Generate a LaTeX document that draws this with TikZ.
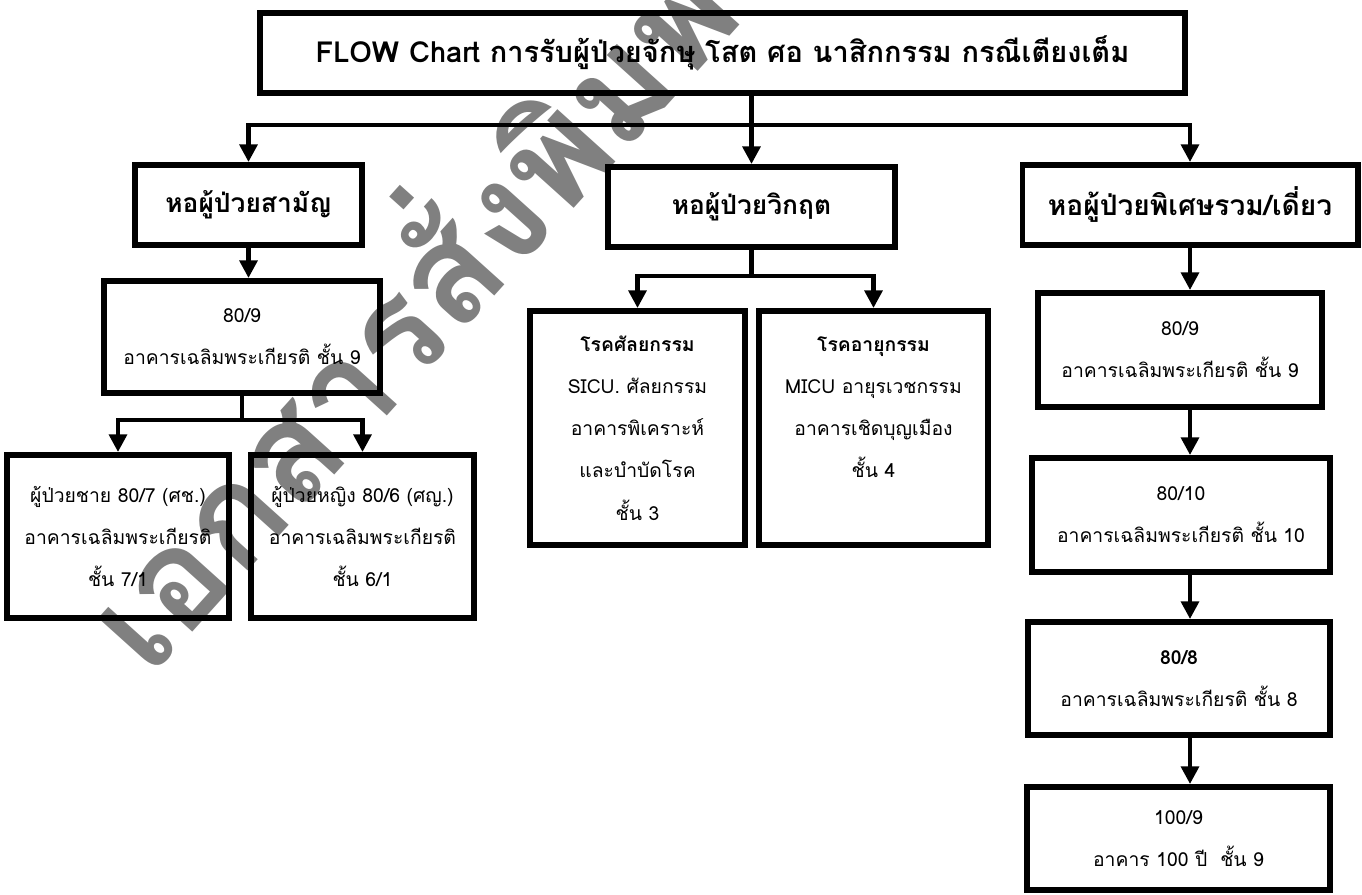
\documentclass[tikz,border=0pt]{standalone}
\usepackage{fontspec}
\setmainfont[Script=Thai]{Loma}
\usepackage{tikz}
\usetikzlibrary{arrows.meta}
\definecolor{wmgray}{RGB}{128,128,128}

\begin{document}
\begin{tikzpicture}
		\tikzset{> = {Triangle[length=10pt,width=10pt]}}
		\tikzset{box/.style = {draw,line width=3.4pt,align=center,inner sep=0pt,font=\fontsize{11}{24}\selectfont},
			head/.style = {box,font=\fontsize{15}{18}\bfseries\selectfont},
			link/.style = {line width=2.4pt}}
		\useasboundingbox (0,0) rectangle (27.24,-17.9);
		\node[rotate=48,text=wmgray,font=\fontsize{80}{80}\bfseries\selectfont] (M) at (7.9,-6.0){เอกสารสั่งพิมพ์};
		\node[head,font=\fontsize{16.5}{18}\bfseries\selectfont,minimum width=18.5cm,minimum height=1.6cm] (T) at (14.45,-1.06){FLOW Chart การรับผู้ป่วยจักษุ โสต ศอ นาสิกกรรม กรณีเตียงเต็ม};
		\node[head,minimum width=4.54cm,minimum height=1.6cm] (S) at (4.97,-4.1){หอผู้ป่วยสามัญ};
		\node[head,minimum width=5.74cm,minimum height=1.6cm] (W) at (15.03,-4.14){หอผู้ป่วยวิกฤต};
		\node[head,font=\fontsize{16}{18}\bfseries\selectfont,minimum width=6.7cm,minimum height=1.6cm] (P) at (23.8,-4.1){หอผู้ป่วยพิเศษรวม/เดี่ยว};
		\node[box,minimum width=5.52cm,minimum height=2.24cm] (S1) at (4.84,-6.74){80/9\\อาคารเฉลิมพระเกียรติ ชั้น 9};
		\node[box,minimum width=4.44cm,minimum height=3.26cm] (S2) at (2.36,-10.73){ผู้ป่วยชาย 80/7 (ศช.)\\อาคารเฉลิมพระเกียรติ\\ชั้น 7/1};
		\node[box,minimum width=4.46cm,minimum height=3.26cm] (S3) at (7.25,-10.73){ผู้ป่วยหญิง 80/6 (ศญ.)\\อาคารเฉลิมพระเกียรติ\\ชั้น 6/1};
		\node[box,minimum width=4.3cm,minimum height=4.68cm] (W1) at (12.75,-8.56){\textbf{โรคศัลยกรรม}\\SICU. ศัลยกรรม\\อาคารพิเคราะห์\\และบำบัดโรค\\ชั้น 3};
		\node[box,minimum width=4.58cm,minimum height=4.68cm] (W2) at (17.47,-8.56){\textbf{โรคอายุกรรม}\\MICU อายุรเวชกรรม\\อาคารเชิดบุญเมือง\\ชั้น 4\\ ~};
		\node[box,minimum width=5.68cm,minimum height=2.28cm] (P1) at (23.6,-7.0){80/9\\อาคารเฉลิมพระเกียรติ ชั้น 9};
		\node[box,minimum width=5.96cm,minimum height=2.28cm] (P2) at (23.62,-10.3){80/10\\อาคารเฉลิมพระเกียรติ ชั้น 10};
		\node[box,minimum width=6.04cm,minimum height=2.26cm] (P3) at (23.58,-13.57){\textbf{80/8}\\อาคารเฉลิมพระเกียรติ ชั้น 8};
		\node[box,minimum width=6.06cm,minimum height=2.06cm] (P4) at (23.57,-16.77){100/9\\อาคาร 100 ปี~ ชั้น 9};
		\coordinate (H) at (15.03,-2.5);
		\draw[link,->] (T.south -| W.north) -- (W.north);
		\draw[link,->] (H) -| (S.north);
		\draw[link,->] (H) -| (P.north);
		\draw[link,->] (S.south) -- (S.south |- S1.north);
		\draw[link] (S1.south) -- ++(0,-0.48) coordinate (S0);
		\draw[link,->] (S0) -| (S2.north);
		\draw[link,->] (S0) -| (S3.north);
		\draw[link] (W.south) -- ++(0,-0.52) coordinate (W0);
		\draw[link,->] (W0) -| (W1.north);
		\draw[link,->] (W0) -| (W2.north);
		\draw[link,->] (P.south) -- (P1.north -| P);
		\draw[link,->] (P1.south -| P) -- (P2.north -| P);
		\draw[link,->] (P2.south -| P) -- (P3.north -| P);
		\draw[link,->] (P3.south -| P) -- (P4.north -| P);
	\end{tikzpicture}
\end{document}
